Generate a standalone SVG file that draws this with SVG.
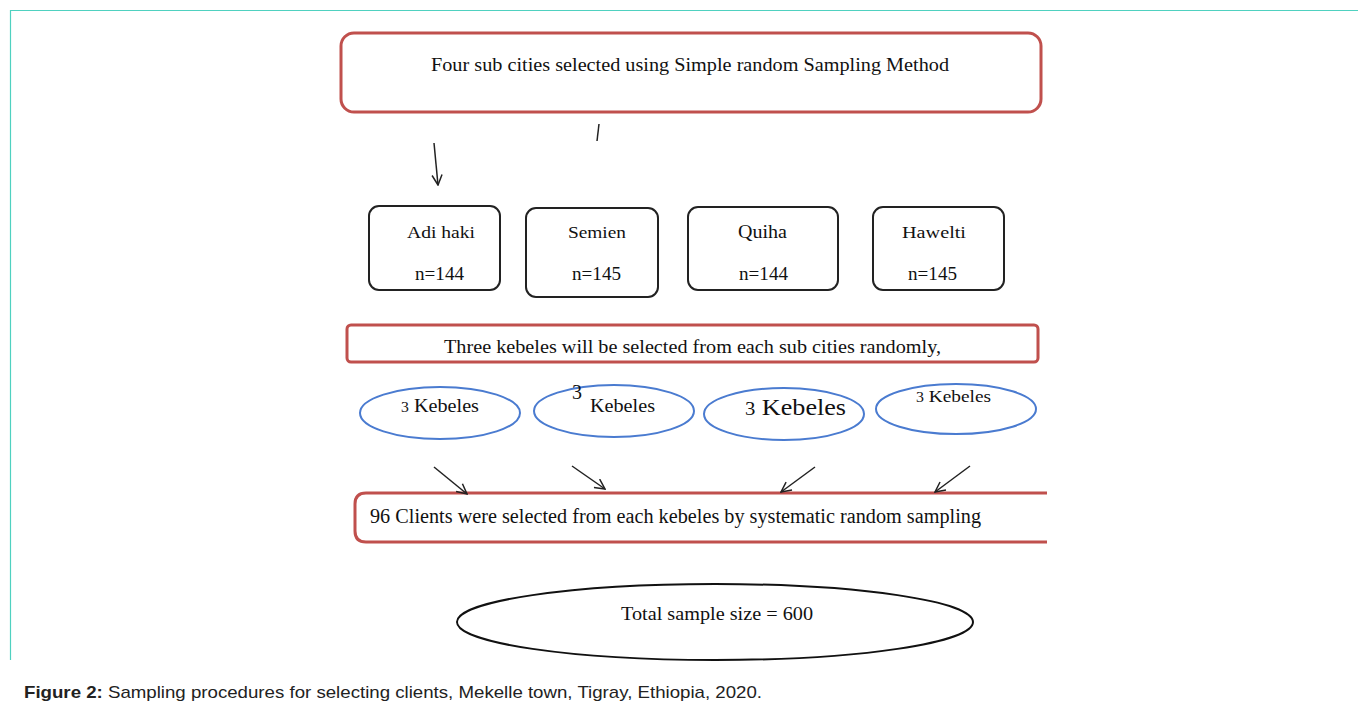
<svg xmlns="http://www.w3.org/2000/svg" width="1358" height="706" viewBox="0 0 1358 706">
<style>
.t{font-family:"Liberation Serif","Times New Roman",serif;fill:#111}
.red{fill:none;stroke:#C0504D;stroke-width:3}
.blk{fill:none;stroke:#222;stroke-width:2}
.blu{fill:none;stroke:#4A7BD0;stroke-width:2}
.ln{fill:none;stroke:#222;stroke-width:1.5}
.cap{font-family:"Liberation Sans",Arial,sans-serif;font-size:17px;fill:#222}
</style>
<defs>
<marker id="ah" viewBox="0 0 12 12" refX="11" refY="6" markerWidth="12" markerHeight="12" markerUnits="userSpaceOnUse" orient="auto">
<path d="M1,1 L11,6 L1,11" fill="none" stroke="#222" stroke-width="1.5"/>
</marker>
</defs>
<rect width="1358" height="706" fill="#fff"/>
<path d="M10.5,660 V10.5 H1358" fill="none" stroke="#4FD1C0" stroke-width="1.2"/>

<g id="top">
<rect class="red" x="341" y="33" width="700" height="79" rx="13"/>
<text class="t" x="431" y="71" font-size="19" textLength="518" lengthAdjust="spacingAndGlyphs">Four sub cities selected using Simple random Sampling Method</text>
</g>

<g id="adihaki">
<rect class="blk" x="369" y="206" width="131" height="84" rx="10"/>
<text class="t" x="407" y="238" font-size="17" textLength="68" lengthAdjust="spacingAndGlyphs">Adi haki</text>
<text class="t" x="415" y="280" font-size="18" textLength="49" lengthAdjust="spacingAndGlyphs">n=144</text>
</g>
<g id="semien">
<rect class="blk" x="526" y="208" width="132" height="89" rx="10"/>
<text class="t" x="568" y="238" font-size="17" textLength="58" lengthAdjust="spacingAndGlyphs">Semien</text>
<text class="t" x="572" y="280" font-size="18" textLength="49" lengthAdjust="spacingAndGlyphs">n=145</text>
</g>
<g id="quiha">
<rect class="blk" x="688" y="207" width="150" height="83" rx="10"/>
<text class="t" x="738" y="238" font-size="18" textLength="49" lengthAdjust="spacingAndGlyphs">Quiha</text>
<text class="t" x="739" y="280" font-size="18" textLength="49" lengthAdjust="spacingAndGlyphs">n=144</text>
</g>
<g id="hawelti">
<rect class="blk" x="873" y="207" width="131" height="83" rx="10"/>
<text class="t" x="902" y="238" font-size="17" textLength="64" lengthAdjust="spacingAndGlyphs">Hawelti</text>
<text class="t" x="908" y="280" font-size="18" textLength="49" lengthAdjust="spacingAndGlyphs">n=145</text>
</g>

<g id="kebeles3">
<rect class="red" x="347" y="325" width="691" height="37" rx="4"/>
<text class="t" x="444" y="353" font-size="19" textLength="497" lengthAdjust="spacingAndGlyphs">Three kebeles will be selected from each sub cities randomly,</text>
</g>

<g id="k1">
<ellipse class="blu" cx="440" cy="413" rx="80" ry="26"/>
<text class="t" x="401" y="412" font-size="18" textLength="78" lengthAdjust="spacingAndGlyphs"><tspan font-size="14">3</tspan> Kebeles</text>
</g>
<g id="k2">
<ellipse class="blu" cx="614" cy="411" rx="80" ry="26"/>
<text class="t" x="572" y="399" font-size="20">3</text>
<text class="t" x="590" y="412" font-size="18" textLength="65" lengthAdjust="spacingAndGlyphs">Kebeles</text>
</g>
<g id="k3">
<ellipse class="blu" cx="784" cy="414" rx="80" ry="26"/>
<text class="t" x="745" y="415" font-size="24" textLength="101" lengthAdjust="spacingAndGlyphs"><tspan font-size="19">3</tspan> Kebeles</text>
</g>
<g id="k4">
<ellipse class="blu" cx="956" cy="409" rx="80" ry="25"/>
<text class="t" x="916" y="402" font-size="17" textLength="75" lengthAdjust="spacingAndGlyphs"><tspan font-size="14">3</tspan> Kebeles</text>
</g>

<g id="clients">
<path class="red" d="M1047,493 H366 Q355,493 355,504 V531 Q355,542 366,542 H1047"/>
<text class="t" x="370" y="523" font-size="20" textLength="611" lengthAdjust="spacingAndGlyphs">96 Clients were selected from each kebeles by systematic random sampling</text>
</g>

<g id="total">
<ellipse cx="715" cy="622" rx="258" ry="38" fill="none" stroke="#111" stroke-width="2"/>
<text class="t" x="621" y="620" font-size="19" textLength="192" lengthAdjust="spacingAndGlyphs">Total sample size = 600</text>
</g>

<g id="connectors">
<line class="ln" x1="599" y1="124" x2="597" y2="141"/>
<line class="ln" x1="434" y1="143" x2="438" y2="185" marker-end="url(#ah)"/>
<line class="ln" x1="434" y1="467" x2="467" y2="494" marker-end="url(#ah)"/>
<line class="ln" x1="572" y1="466" x2="605" y2="489" marker-end="url(#ah)"/>
<line class="ln" x1="815" y1="467" x2="781" y2="492" marker-end="url(#ah)"/>
<line class="ln" x1="970" y1="466" x2="935" y2="492" marker-end="url(#ah)"/>
</g>

<text class="cap" x="24" y="698" textLength="738" lengthAdjust="spacingAndGlyphs"><tspan font-weight="bold">Figure 2:</tspan> Sampling procedures for selecting clients, Mekelle town, Tigray, Ethiopia, 2020.</text>
</svg>
